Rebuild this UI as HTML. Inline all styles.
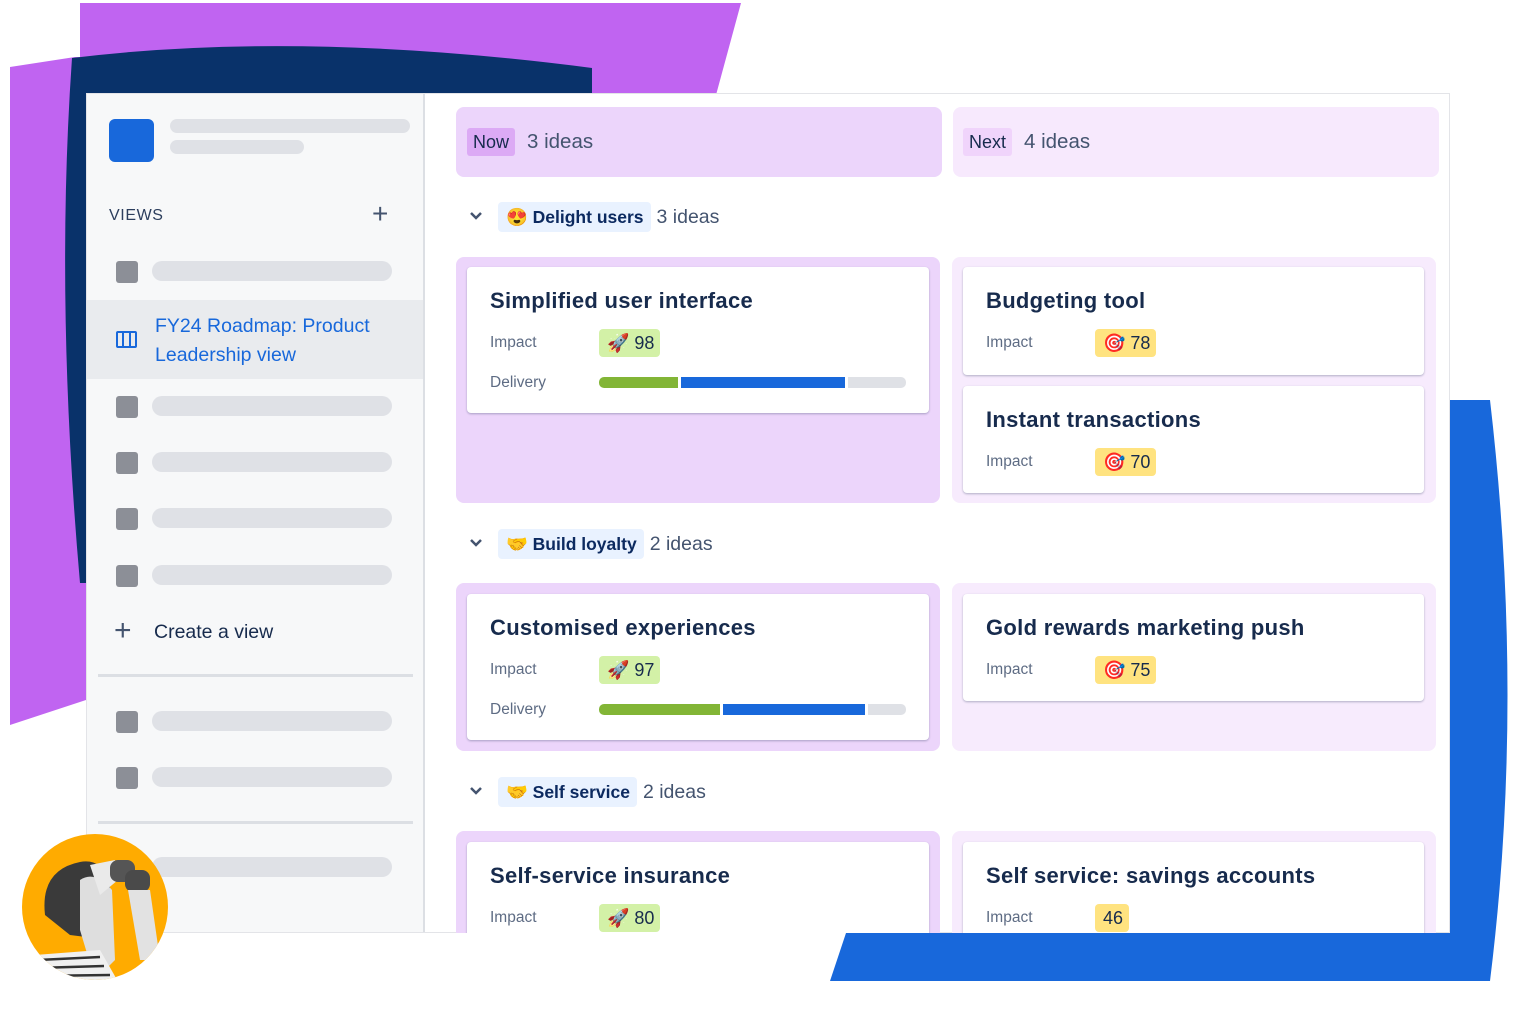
<!DOCTYPE html>
<html><head><meta charset="utf-8">
<style>
*{margin:0;padding:0;box-sizing:border-box}
body{width:1536px;height:1025px;background:#fff;position:relative;overflow:hidden;font-family:"Liberation Sans","Noto Sans CJK JP",sans-serif;color:#172b4d}
.a{position:absolute}
.bar{position:absolute;background:#dfe1e6;border-radius:10px;height:20px}
.sq{position:absolute;width:22px;height:22px;background:#8c8f97;border-radius:3px}
.col{position:absolute;border-radius:8px}
.card{position:absolute;background:#fff;border-radius:4px;box-shadow:0 1px 2px rgba(9,30,66,.3)}
.t{position:absolute;left:23px;font-size:22px;font-weight:bold;color:#172b4d;letter-spacing:.3px}
.l{position:absolute;left:23px;font-size:15.5px;color:#5e6c84}
.bd{position:absolute;left:132px;height:28px;border-radius:4px;font-size:18px;line-height:28px;padding:0 6px 0 8px;color:#172b4d}
.g{background:#d3f1a7}.y{background:#ffe380}
.grp{position:absolute;font-size:19.5px;color:#44546f;line-height:30px}
.tag{display:inline-block;background:#e9f2ff;color:#0c2a60;font-weight:600;border-radius:4px;padding:0 7px 0 8px;font-size:17.5px;margin-right:6px}
.chev{position:absolute}
</style></head><body>
<svg class="a" style="left:0;top:0" width="1536" height="1025">
<polygon points="80,3 741,3 716,95 80,95" fill="#c064f1"/>
<polygon points="10,67 75,57 86,57 86,700 10,725" fill="#c064f1"/>
<path d="M72,58 Q300,30 592,68 L592,95 L86,95 L86,583 L80,583 Q55,300 72,58 Z" fill="#09326a"/>
<path d="M1450,400 L1490,400 Q1525,700 1490,981 L830,981 L846,933 L1450,933 Z" fill="#1868db"/>
</svg>
<div class="a" style="left:86px;top:93px;width:1364px;height:840px;background:#fff;border:1px solid #e3e4e8;overflow:hidden">
 <div class="a" style="left:0;top:0;width:338px;height:840px;background:#f7f8f9;border-right:2px solid #dcdfe4"></div>
</div>
<!-- sidebar -->
<div class="a" style="left:109px;top:119px;width:45px;height:43px;background:#1868db;border-radius:6px"></div>
<div class="bar" style="left:170px;top:119px;width:240px;height:14px"></div>
<div class="bar" style="left:170px;top:140px;width:134px;height:14px"></div>
<div class="a" style="left:109px;top:207px;font-size:16px;color:#2c3e5d;letter-spacing:.6px">VIEWS</div>
<div class="a" style="left:372px;top:198px;font-size:28px;color:#44546f">+</div>
<div class="sq" style="left:116px;top:261px"></div><div class="bar" style="left:152px;top:261px;width:240px"></div>
<div class="a" style="left:87px;top:300px;width:336px;height:79px;background:#e9ebee"></div>
<div class="a" style="left:116px;top:331px;width:21px;height:17px;border:2px solid #1868db;border-radius:2px"></div>
<div class="a" style="left:122px;top:333px;width:2px;height:13px;background:#1868db"></div>
<div class="a" style="left:129px;top:333px;width:2px;height:13px;background:#1868db"></div>
<div class="a" style="left:155px;top:312px;font-size:19.5px;color:#1868db;line-height:29px">FY24 Roadmap: Product<br>Leadership view</div>
<div class="sq" style="left:116px;top:396px"></div><div class="bar" style="left:152px;top:396px;width:240px"></div>
<div class="sq" style="left:116px;top:452px"></div><div class="bar" style="left:152px;top:452px;width:240px"></div>
<div class="sq" style="left:116px;top:508px"></div><div class="bar" style="left:152px;top:508px;width:240px"></div>
<div class="sq" style="left:116px;top:565px"></div><div class="bar" style="left:152px;top:565px;width:240px"></div>
<div class="a" style="left:114px;top:614px;font-size:30px;color:#44546f;line-height:34px">+</div>
<div class="a" style="left:154px;top:621px;font-size:19.5px;color:#172b4d">Create a view</div>
<div class="a" style="left:98px;top:674px;width:315px;height:3px;background:#dcdfe4"></div>
<div class="sq" style="left:116px;top:711px"></div><div class="bar" style="left:152px;top:711px;width:240px"></div>
<div class="sq" style="left:116px;top:767px"></div><div class="bar" style="left:152px;top:767px;width:240px"></div>
<div class="a" style="left:98px;top:821px;width:315px;height:3px;background:#dcdfe4"></div>
<div class="bar" style="left:152px;top:857px;width:240px"></div>
<!-- headers -->
<div class="col" style="left:456px;top:107px;width:486px;height:70px;background:#ecd5fb"></div>
<div class="col" style="left:953px;top:107px;width:486px;height:70px;background:#f7e9fd"></div>
<div class="a" style="left:467px;top:128px;background:#dcaaf5;border-radius:3px;padding:0 6px;font-size:18px;line-height:28px;color:#172b4d">Now</div>
<div class="a" style="left:527px;top:128px;font-size:20.5px;line-height:28px;color:#44546f">3 ideas</div>
<div class="a" style="left:963px;top:128px;background:#f0d4fb;border-radius:3px;padding:0 6px;font-size:18px;line-height:28px;color:#172b4d">Next</div>
<div class="a" style="left:1024px;top:128px;font-size:20.5px;line-height:28px;color:#44546f">4 ideas</div>
<!-- groups -->
<svg class="chev" style="left:469px;top:211px" width="14" height="10"><path d="M2,2 L7,7 L12,2" stroke="#44546f" stroke-width="2.5" fill="none"/></svg>
<div class="grp" style="left:498px;top:202px"><span class="tag">😍 Delight users</span>3 ideas</div>
<svg class="chev" style="left:469px;top:538px" width="14" height="10"><path d="M2,2 L7,7 L12,2" stroke="#44546f" stroke-width="2.5" fill="none"/></svg>
<div class="grp" style="left:498px;top:529px"><span class="tag">🤝 Build loyalty</span>2 ideas</div>
<svg class="chev" style="left:469px;top:786px" width="14" height="10"><path d="M2,2 L7,7 L12,2" stroke="#44546f" stroke-width="2.5" fill="none"/></svg>
<div class="grp" style="left:498px;top:777px"><span class="tag">🤝 Self service</span>2 ideas</div>
<!-- cells -->
<div class="col" style="left:456px;top:257px;width:484px;height:246px;background:#ecd5fb"></div>
<div class="col" style="left:952px;top:257px;width:484px;height:246px;background:#f7ebfd"></div>
<div class="col" style="left:456px;top:583px;width:484px;height:168px;background:#ecd5fb"></div>
<div class="col" style="left:952px;top:583px;width:484px;height:168px;background:#f7ebfd"></div>
<div class="col" style="left:456px;top:831px;width:484px;height:102px;background:#ecd5fb;border-radius:8px 8px 0 0"></div>
<div class="col" style="left:952px;top:831px;width:484px;height:102px;background:#f7ebfd;border-radius:8px 8px 0 0"></div>
<!-- cards -->
<div class="card" style="left:467px;top:267px;width:462px;height:146px">
 <div class="t" style="top:21px">Simplified user interface</div>
 <div class="l" style="top:67px">Impact</div><div class="bd g" style="top:62px">🚀 98</div>
 <div class="l" style="top:107px">Delivery</div>
 <div class="a" style="left:132px;top:110px;width:79px;height:11px;background:#82b536;border-radius:5px 0 0 5px"></div>
 <div class="a" style="left:214px;top:110px;width:164px;height:11px;background:#1868db"></div>
 <div class="a" style="left:381px;top:110px;width:58px;height:11px;background:#dfe1e6;border-radius:0 5px 5px 0"></div>
</div>
<div class="card" style="left:963px;top:267px;width:461px;height:108px">
 <div class="t" style="top:21px">Budgeting tool</div>
 <div class="l" style="top:67px">Impact</div><div class="bd y" style="top:62px">🎯 78</div>
</div>
<div class="card" style="left:963px;top:386px;width:461px;height:107px">
 <div class="t" style="top:21px">Instant transactions</div>
 <div class="l" style="top:67px">Impact</div><div class="bd y" style="top:62px">🎯 70</div>
</div>
<div class="card" style="left:467px;top:594px;width:462px;height:146px">
 <div class="t" style="top:21px">Customised experiences</div>
 <div class="l" style="top:67px">Impact</div><div class="bd g" style="top:62px">🚀 97</div>
 <div class="l" style="top:107px">Delivery</div>
 <div class="a" style="left:132px;top:110px;width:121px;height:11px;background:#82b536;border-radius:5px 0 0 5px"></div>
 <div class="a" style="left:256px;top:110px;width:142px;height:11px;background:#1868db"></div>
 <div class="a" style="left:401px;top:110px;width:38px;height:11px;background:#dfe1e6;border-radius:0 5px 5px 0"></div>
</div>
<div class="card" style="left:963px;top:594px;width:461px;height:107px">
 <div class="t" style="top:21px">Gold rewards marketing push</div>
 <div class="l" style="top:67px">Impact</div><div class="bd y" style="top:62px">🎯 75</div>
</div>
<div class="a" style="left:456px;top:831px;width:994px;height:102px;overflow:hidden">
 <div class="card" style="left:11px;top:11px;width:462px;height:120px">
  <div class="t" style="top:21px">Self-service insurance</div>
  <div class="l" style="top:67px">Impact</div><div class="bd g" style="top:62px">🚀 80</div>
 </div>
 <div class="card" style="left:507px;top:11px;width:461px;height:120px">
  <div class="t" style="top:21px">Self service: savings accounts</div>
  <div class="l" style="top:67px">Impact</div><div class="bd y" style="top:62px">46</div>
 </div>
</div>
<!-- avatar -->
<svg class="a" style="left:0;top:820px" width="200" height="180">
<defs><clipPath id="c"><circle cx="95" cy="87" r="73"/></clipPath></defs>
<circle cx="95" cy="87" r="73" fill="#ffab00"/>
<g clip-path="url(#c)">
<path d="M45,95 Q40,50 80,42 Q100,38 110,60 L110,120 L70,115 Z" fill="#3a3a3a"/>
<path d="M80,60 Q95,50 112,70 L115,140 L95,160 L80,110 Z" fill="#dedede"/>
<path d="M90,45 L115,40 L118,60 L100,75 Z" fill="#eaeaea"/>
<rect x="110" y="40" width="25" height="22" rx="8" fill="#555"/>
<rect x="125" y="50" width="25" height="22" rx="8" fill="#4a4a4a"/>
<path d="M128,70 L150,70 L160,140 L140,140 Z" fill="#e2e2e2"/>
<path d="M35,135 L100,130 L120,165 L30,170 Z" fill="#f0f0f0"/>
<path d="M38,140 L100,137 M36,148 L104,146 M34,156 L110,155" stroke="#333" stroke-width="2.5"/>
</g>
</svg>
</body></html>
